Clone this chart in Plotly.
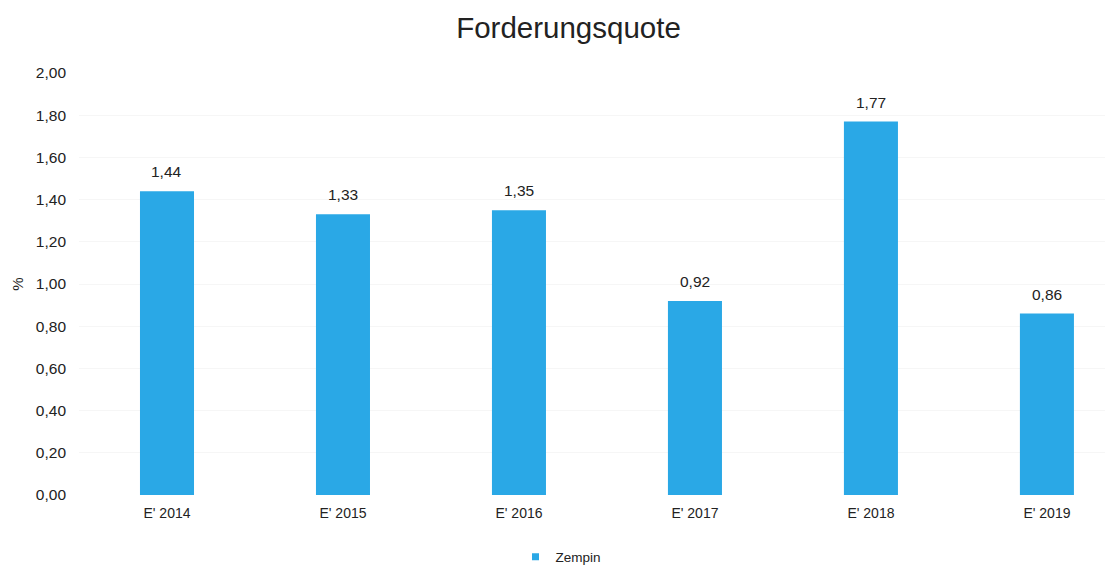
import plotly.graph_objects as go

categories = ["E' 2014", "E' 2015", "E' 2016", "E' 2017", "E' 2018", "E' 2019"]
values = [1.44, 1.33, 1.35, 0.92, 1.77, 0.86]
series_name = "Zempin"
y_ticks = [0.0, 0.2, 0.4, 0.6, 0.8, 1.0, 1.2, 1.4, 1.6, 1.8, 2.0]

BAR_COLOR = "#2AA8E6"
TEXT_COLOR = "#222222"
FONT = "Liberation Sans, Arial"

# the page body has an 8px margin, so the figure is sized to the visible area
W, H = 1105, 559

fig = go.Figure()
fig.add_trace(go.Bar(
    x=categories, y=values, name=series_name,
    marker=dict(color=BAR_COLOR, line=dict(width=0)),
    width=0.307,
    showlegend=False,
))
# legend entry (small square like the original)
fig.add_trace(go.Scatter(
    x=[None], y=[None], mode="markers", name=series_name,
    marker=dict(symbol="square", size=7, color=BAR_COLOR),
    showlegend=True,
))

for c, v in zip(categories, values):
    fig.add_annotation(
        x=c, y=v, text=f"{v:.2f}".replace(".", ","),
        showarrow=False, yanchor="bottom", yshift=9,
        font=dict(family=FONT, size=15.5, color=TEXT_COLOR),
    )

fig.update_layout(
    width=W, height=H,
    margin=dict(l=71, r=8, t=65, b=72),
    paper_bgcolor="white", plot_bgcolor="white",
    separators=",.",
    font=dict(family=FONT, size=14, color=TEXT_COLOR),
    title=dict(text="Forderungsquote", x=560.5 / W, xref="container", xanchor="center",
               y=1 - 19.5 / H, yanchor="middle",
               font=dict(size=29.5, color=TEXT_COLOR)),
    xaxis=dict(range=[-0.5, 5.33], showgrid=False, showline=False, ticks="",
               automargin=False, ticklabelstandoff=8, tickfont=dict(size=14)),
    yaxis=dict(range=[0, 2.0], tickvals=y_ticks, tickformat=".2f",
               showgrid=True, gridcolor="#f6f6f6", zeroline=False, showline=False,
               ticks="", ticklabelstandoff=12, automargin=False,
               title=dict(text="%", font=dict(size=15), standoff=8),
               tickfont=dict(size=15.5)),
    legend=dict(orientation="h", x=553 / W, xref="container", xanchor="center",
                y=1 - 549 / H, yref="container", yanchor="middle",
                font=dict(size=13.5), itemwidth=30),
)

fig.write_html("out.html")
